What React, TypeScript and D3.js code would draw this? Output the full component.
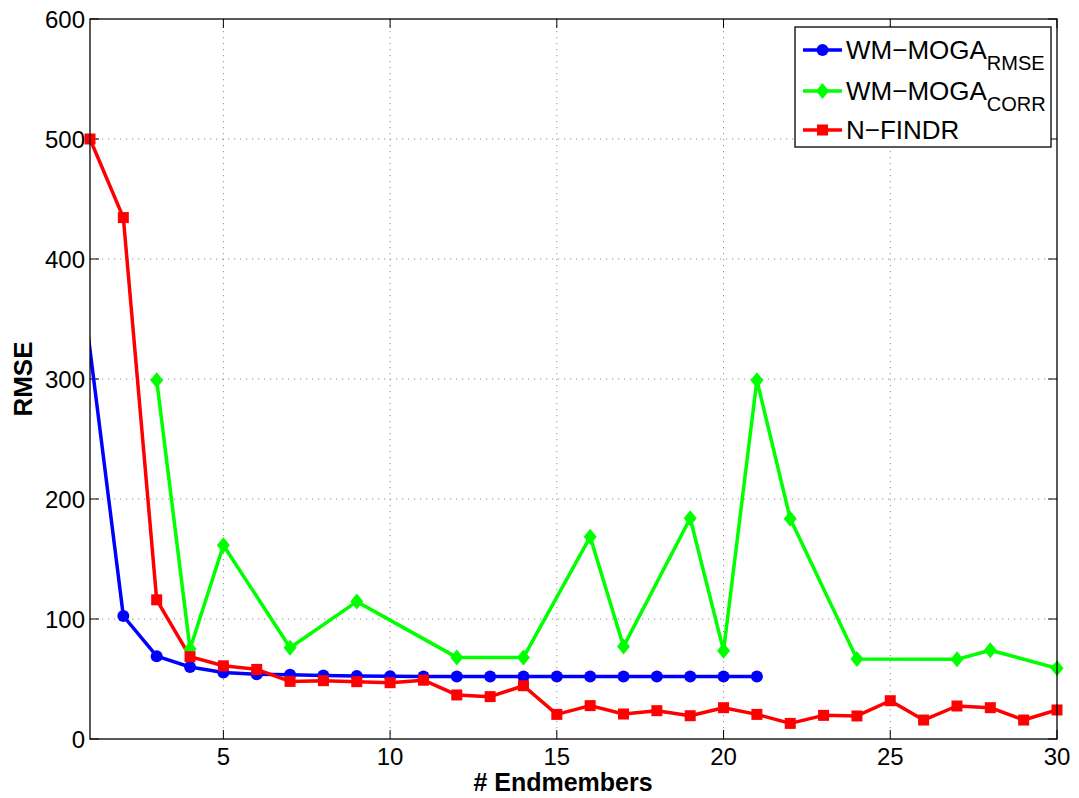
import React from "react";
import * as d3 from "d3";

const xTicks = [5, 10, 15, 20, 25, 30];
const yTicks = [0, 100, 200, 300, 400, 500, 600];

// WM-MOGA_RMSE (first point lies left of the visible x-range; only its line segment shows)
const blueX = [0, 2, 3, 4, 5, 6, 7, 8, 9, 10, 11, 12, 13, 14, 15, 16, 17, 18, 19, 20, 21];
const blueY = [546, 102.5, 69, 60, 55.5, 54, 53.5, 53, 52.5, 52.3, 52.1, 52, 52, 52, 52, 52, 52, 52, 52, 52, 52];

// WM-MOGA_CORR
const greenX = [3, 4, 5, 7, 9, 12, 14, 16, 17, 19, 20, 21, 22, 24, 27, 28, 30];
const greenY = [299, 75, 161.5, 76, 114.5, 68, 68, 168.5, 77, 184, 73.6, 299, 183.5, 66.7, 66.4, 74, 59];

// N-FINDR
const redX = [1, 2, 3, 4, 5, 6, 7, 8, 9, 10, 11, 12, 13, 14, 15, 16, 17, 18, 19, 20, 21, 22, 23, 24, 25, 26, 27, 28, 29, 30];
const redY = [500, 434.5, 116, 68.6, 61, 58, 48, 48.6, 47.8, 46.9, 49, 36.7, 35.3, 44.4, 20.5, 27.8, 20.8, 23.6, 19.4, 26.1, 20.5, 13, 19.7, 19.2, 31.9, 15.8, 27.5, 26.1, 15.8, 24.2];

const legendMain = ["WM\u2212MOGA", "WM\u2212MOGA", "N\u2212FINDR"];
const legendSub = ["RMSE", "CORR", ""];

const W = 1079;
const H = 798;
const M = { left: 90, right: 1057, top: 19, bottom: 739 };
const FONT = "'Liberation Sans', Arial, Helvetica, sans-serif";

export default function App() {
  const x = d3.scaleLinear().domain([1, 30]).range([M.left, M.right]);
  const y = d3.scaleLinear().domain([0, 600]).range([M.bottom, M.top]);

  const mk = (xs: number[], ys: number[]) => xs.map((v, i) => [v, ys[i]] as [number, number]);
  const line = d3
    .line<[number, number]>()
    .x((d) => x(d[0]))
    .y((d) => y(d[1]));

  const series = [
    { data: mk(blueX, blueY), color: "#0000ff", marker: "circle" },
    { data: mk(greenX, greenY), color: "#00ff00", marker: "diamond" },
    { data: mk(redX, redY), color: "#ff0000", marker: "square" },
  ];

  const marker = (type: string, cx: number, cy: number, color: string, key: any) => {
    if (type === "circle") return <circle key={key} cx={cx} cy={cy} r={6} fill={color} />;
    if (type === "square")
      return <rect key={key} x={cx - 5.5} y={cy - 5.5} width={11} height={11} fill={color} />;
    return (
      <path
        key={key}
        d={`M${cx},${cy - 8}L${cx + 6.5},${cy}L${cx},${cy + 8}L${cx - 6.5},${cy}Z`}
        fill={color}
      />
    );
  };

  const tickLen = 9;
  const gridStyle = { stroke: "#8c8c8c", strokeWidth: 1, strokeDasharray: "1.2,4.8" };

  return (
    <svg width={W} height={H} style={{ position: "absolute", left: 0, top: 0, background: "#fff" }}>
      <defs>
        <clipPath id="plotclip">
          <rect x={M.left} y={M.top} width={M.right - M.left} height={M.bottom - M.top} />
        </clipPath>
      </defs>
      <rect x={0} y={0} width={W} height={H} fill="#fff" />

      {/* grid */}
      {xTicks
        .filter((t) => x(t) < M.right - 1)
        .map((t) => (
          <line key={"gx" + t} x1={x(t)} x2={x(t)} y1={M.top} y2={M.bottom} {...gridStyle} />
        ))}
      {yTicks
        .filter((t) => y(t) > M.top + 1 && y(t) < M.bottom - 1)
        .map((t) => (
          <line key={"gy" + t} x1={M.left} x2={M.right} y1={y(t)} y2={y(t)} {...gridStyle} />
        ))}

      {/* ticks */}
      {xTicks.map((t) => (
        <g key={"tx" + t}>
          <line x1={x(t)} x2={x(t)} y1={M.bottom} y2={M.bottom - tickLen} stroke="#000" />
          <line x1={x(t)} x2={x(t)} y1={M.top} y2={M.top + tickLen} stroke="#000" />
        </g>
      ))}
      {yTicks.map((t) => (
        <g key={"ty" + t}>
          <line x1={M.left} x2={M.left + tickLen} y1={y(t)} y2={y(t)} stroke="#000" />
          <line x1={M.right} x2={M.right - tickLen} y1={y(t)} y2={y(t)} stroke="#000" />
        </g>
      ))}

      {/* lines */}
      <g clipPath="url(#plotclip)">
        {series.map((s, i) => (
          <path
            key={"l" + i}
            d={line(s.data) || ""}
            fill="none"
            stroke={s.color}
            strokeWidth={3.5}
            strokeLinejoin="round"
          />
        ))}
      </g>
      {/* markers */}
      {series.map((s, i) => (
        <g key={"m" + i}>
          {s.data
            .filter((d) => d[0] >= 1 && d[0] <= 30)
            .map((d, j) => marker(s.marker, x(d[0]), y(d[1]), s.color, j))}
        </g>
      ))}

      {/* axes box */}
      <rect
        x={M.left}
        y={M.top}
        width={M.right - M.left}
        height={M.bottom - M.top}
        fill="none"
        stroke="#000"
        strokeWidth={1.3}
      />

      {/* tick labels */}
      {xTicks.map((t) => (
        <text
          key={"xl" + t}
          x={x(t)}
          y={765}
          textAnchor="middle"
          fontFamily={FONT}
          fontSize={24}
          fill="#000"
        >
          {t}
        </text>
      ))}
      {yTicks.map((t) => (
        <text
          key={"yl" + t}
          x={85}
          y={y(t) + 8.5}
          textAnchor="end"
          fontFamily={FONT}
          fontSize={24}
          fill="#000"
        >
          {t}
        </text>
      ))}

      {/* axis labels */}
      <text
        x={563}
        y={791}
        textAnchor="middle"
        fontFamily={FONT}
        fontSize={25}
        fontWeight="bold"
        fill="#000"
      >
        # Endmembers
      </text>
      <text
        transform={`translate(32,379) rotate(-90)`}
        textAnchor="middle"
        fontFamily={FONT}
        fontSize={26}
        fontWeight="bold"
        fill="#000"
      >
        RMSE
      </text>

      {/* legend */}
      <g>
        <rect x={795} y={27} width={256} height={120} fill="#fff" stroke="#000" strokeWidth={1.3} />
        {series.map((s, i) => {
          const cy = [50, 91, 130][i];
          return (
            <g key={"lg" + i}>
              <line x1={803} x2={842} y1={cy} y2={cy} stroke={s.color} strokeWidth={3.5} />
              {marker(s.marker, 822.5, cy, s.color, "lm" + i)}
              <text x={846} y={cy + 9} fontFamily={FONT} fontSize={26} fill="#000">
                {legendMain[i]}
                {legendSub[i] && (
                  <tspan fontSize={20} dy={11}>
                    {legendSub[i]}
                  </tspan>
                )}
              </text>
            </g>
          );
        })}
      </g>
    </svg>
  );
}
